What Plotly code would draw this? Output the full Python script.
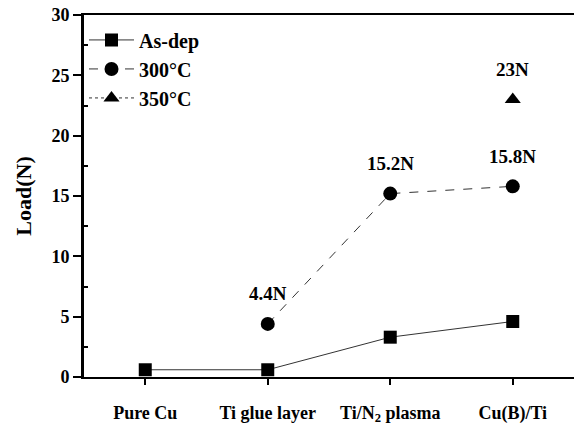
import plotly.graph_objects as go

categories = ["Pure Cu", "Ti glue layer", "Ti/N<sub>2</sub> plasma", "Cu(B)/Ti"]
asdep = [0.6, 0.6, 3.3, 4.6]
t300_x = ["Ti glue layer", "Ti/N<sub>2</sub> plasma", "Cu(B)/Ti"]
t300 = [4.4, 15.2, 15.8]
t350_x = ["Cu(B)/Ti"]
t350 = [23.0]
label_x = ["Ti glue layer", "Ti/N<sub>2</sub> plasma", "Cu(B)/Ti", "Cu(B)/Ti"]
label_y = [4.4, 15.2, 15.8, 23.0]
label_text = ["4.4N", "15.2N", "15.8N", "23N"]

font = "Liberation Serif, Times New Roman, serif"
fig = go.Figure()
fig.add_trace(go.Scatter(x=categories, y=asdep, mode="lines+markers", name="<b>As-dep</b>",
                         line=dict(color="#333", width=1),
                         marker=dict(symbol="square", size=13, color="black")))
fig.add_trace(go.Scatter(x=t300_x, y=t300, mode="lines+markers", name="<b>300°C</b>",
                         line=dict(color="#333", width=1, dash="dash"),
                         marker=dict(symbol="circle", size=14, color="black")))
fig.add_trace(go.Scatter(x=t350_x, y=t350, mode="lines+markers", name="<b>350°C</b>",
                         line=dict(color="#333", width=1, dash="dot"),
                         marker=dict(symbol="triangle-up", size=14, color="black")))

for xv, yv, t in zip(label_x, label_y, label_text):
    fig.add_annotation(x=xv, y=yv, text="<b>%s</b>" % t, showarrow=False,
                       yshift=30, font=dict(family=font, size=19, color="black"))

fig.update_layout(
    width=574, height=428,
    margin=dict(l=84, r=0, t=15, b=51),
    plot_bgcolor="white", paper_bgcolor="white",
    showlegend=True,
    legend=dict(x=0.0, y=0.985, xanchor="left", yanchor="top",
                font=dict(family=font, size=20, color="black"),
                bgcolor="rgba(0,0,0,0)", itemwidth=45, tracegroupgap=0),
    font=dict(family=font, color="black"),
)
fig.update_xaxes(
    type="category", categoryorder="array", categoryarray=categories,
    ticktext=["<b>%s</b>" % c for c in categories], tickvals=categories,
    range=[-0.5, 3.5], showline=True, linecolor="black", linewidth=2,
    mirror=True, ticks="outside", ticklen=6, tickwidth=2, tickcolor="black",
    showgrid=False, zeroline=False, ticklabelstandoff=12,
    tickfont=dict(family=font, size=18, color="black"),
)
fig.update_yaxes(
    range=[0, 30], tickvals=[0, 5, 10, 15, 20, 25, 30],
    ticktext=["<b>%d</b>" % v for v in [0, 5, 10, 15, 20, 25, 30]],
    showline=True, linecolor="black", linewidth=3,
    ticks="outside", ticklen=8, tickwidth=2, tickcolor="black",
    showgrid=False, zeroline=False,
    minor=dict(tickvals=[2.5, 7.5, 12.5, 17.5, 22.5, 27.5], ticks="inside", ticklen=4, tickwidth=1.5, tickcolor="black"),
    tickfont=dict(family=font, size=18, color="black"),
    title=dict(text="<b>Load(N)</b>", font=dict(family=font, size=22, color="black"), standoff=14),
)
fig.write_html("out.html")
